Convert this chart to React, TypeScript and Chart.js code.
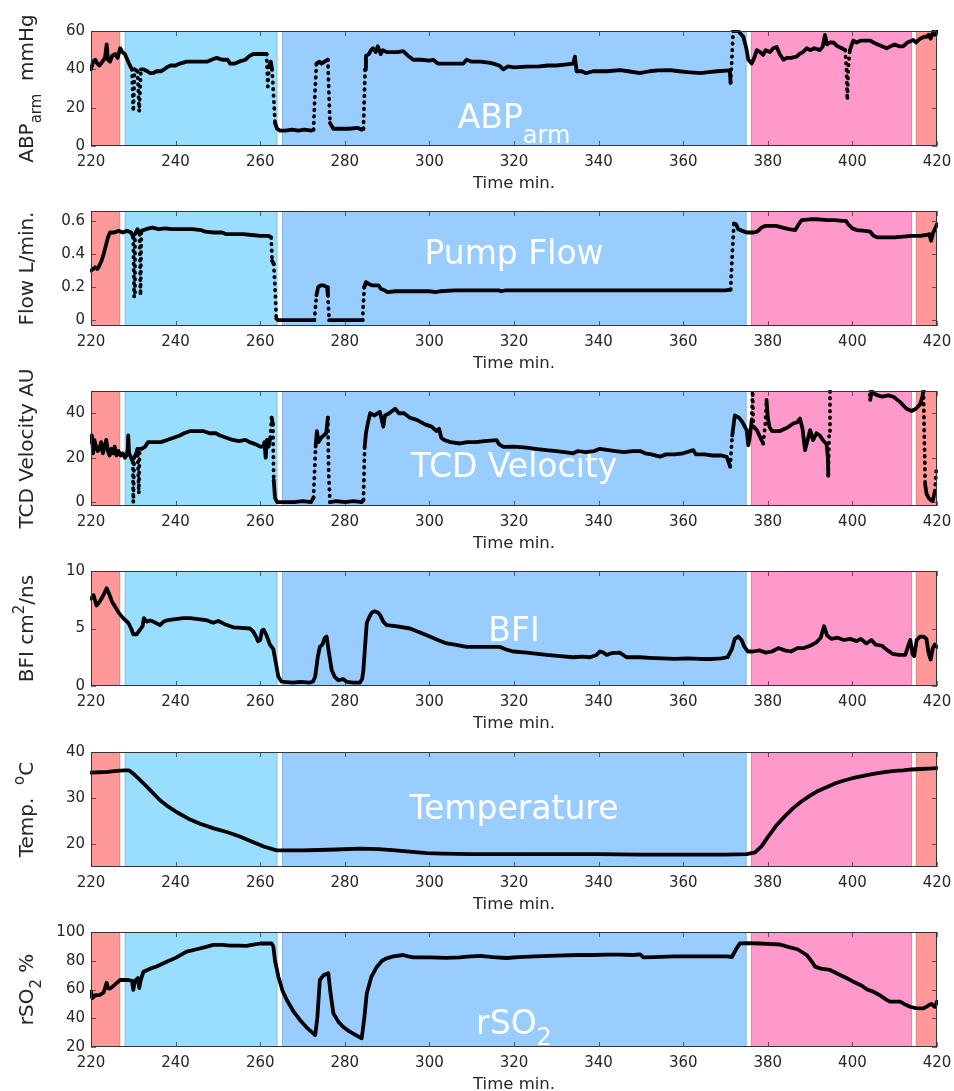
import React, { useEffect, useRef } from "react";
import { Chart, registerables } from "chart.js";

Chart.register(...registerables);

const FONT = "'DejaVu Sans', sans-serif";

// ---------- shared axis / phase data ----------
const timeTicks = [220, 240, 260, 280, 300, 320, 340, 360, 380, 400, 420];
const phaseStart = [220, 227.95, 265.15, 376.0, 415.0];
const phaseEnd = [226.9, 264.1, 375.0, 414.1, 420];
const phaseColor = ["#FF9999", "#99DDFF", "#99CCFF", "#FF99CC", "#FF9999"];

const abpTicks = [0, 20, 40, 60];
const flowTicks = [0, 0.2, 0.4, 0.6];
const tcdTicks = [0, 20, 40];
const bfiTicks = [0, 5, 10];
const tempTicks = [20, 30, 40];
const rso2Ticks = [20, 40, 60, 80, 100];

// ---------- series: [time (min), value] ----------
const abpSeries: number[][] = [
  [220, 40], [220.5, 44], [221, 45], [221.5, 43], [222, 42], [222.7, 44], [223.3, 46], [223.7, 53], [224, 45],
  [224.5, 44], [225, 47], [225.7, 48], [226.3, 46], [226.9, 51], [227.4, 49], [228, 48], [228.6, 45], [229.2, 42],
  [229.7, 40], [230, 18], [230.3, 40], [231, 39], [231.4, 18], [231.8, 40], [232.5, 40], [233.3, 39], [234, 38],
  [234.7, 38], [235.5, 39], [236.5, 39], [237.3, 40], [237.9, 41], [238.8, 42], [240, 42], [241, 43], [242.6, 44],
  [244, 44], [245.5, 44], [247.4, 44], [248.5, 45], [249.7, 46], [251, 45], [252.3, 45], [252.9, 43], [254, 43],
  [255, 44], [256.5, 45], [257.5, 47], [258.4, 48], [259.5, 48], [260.5, 48], [261.5, 48], [261.8, 31], [262.1, 42],
  [262.5, 44], [262.8, 40], [263.2, 25], [263.5, 12], [264, 9], [264.7, 8], [266, 8], [267.5, 8.5], [269, 8],
  [270.5, 8.5], [272, 8], [272.6, 8.5], [273, 30], [273.3, 43], [274, 44], [274.5, 43], [275.2, 44], [276, 45],
  [276.2, 30], [276.5, 12], [277.3, 9], [279, 9], [281, 9], [283, 9.5], [284, 8.5], [284.4, 9], [284.8, 40],
  [285, 47], [285.7, 48], [286.2, 50], [286.7, 51], [287.3, 49], [287.8, 52], [288.5, 48], [289, 50], [289.9, 49],
  [291, 49], [292.5, 49], [293.8, 49.5], [295, 47], [296.2, 45], [298, 45], [300, 44.5], [300.9, 45], [302, 43],
  [304.1, 43], [306, 43], [308, 43], [308.8, 45], [310, 44], [312, 44], [314, 43.5], [315.1, 43], [316.5, 42],
  [317.5, 40], [318.5, 41.5], [320, 41], [323, 41.4], [326, 41.5], [328, 42], [330, 42], [332, 42.5], [334, 43],
  [334.4, 46.6], [334.8, 39], [336, 39], [337, 38], [338.7, 39], [340, 39], [342, 39], [345.1, 39.6], [347, 39],
  [349.8, 38], [352, 39], [354, 39.5], [356.9, 39.6], [359, 39], [361, 38.5], [364, 38], [366, 38.5], [368, 39],
  [371, 39.5], [371.2, 33], [371.5, 45], [371.8, 60], [373, 60], [374.2, 57], [374.7, 53], [375, 50], [375.4, 45],
  [376.2, 43], [376.8, 46], [377.4, 50], [378.2, 49], [378.9, 47.5], [379.5, 50], [380.5, 49], [381.3, 51],
  [382.1, 51.7], [382.8, 48], [383.7, 45], [384.5, 46], [385.5, 46], [386.8, 46.6], [387.5, 48], [388.3, 49],
  [389.2, 51], [390, 50], [391, 51], [392.3, 50], [393, 52], [393.5, 58], [394, 53], [394.7, 54], [395.5, 54],
  [396.5, 52], [397.5, 51], [398.3, 50], [398.6, 40], [398.8, 24], [399, 40], [399.4, 50], [400.2, 55], [401, 54],
  [402, 55], [403, 55], [404.2, 55], [405, 54], [406, 53], [407, 52], [408.1, 51], [409, 52], [410, 53], [411, 52],
  [412, 52], [413, 54], [414.4, 55.3], [415, 54], [416, 56], [417, 57], [417.6, 57], [418, 58], [418.5, 56],
  [419.1, 59.6], [419.5, 58], [420, 60],
];

const flowSeries: number[][] = [
  [220, 0.30], [220.5, 0.31], [221, 0.32], [221.5, 0.31], [222, 0.33], [222.5, 0.36], [223, 0.40], [223.5, 0.45],
  [224, 0.50], [224.5, 0.53], [225.5, 0.53], [226.5, 0.54], [227.5, 0.53], [228.5, 0.54], [229.5, 0.53], [230, 0.50],
  [230.2, 0.14], [230.4, 0.52], [231, 0.55], [231.5, 0.52], [231.7, 0.15], [231.9, 0.54], [233, 0.55], [234.5, 0.56],
  [236, 0.55], [237.5, 0.555], [239, 0.55], [240.5, 0.55], [242, 0.55], [244, 0.55], [246, 0.545], [247, 0.535],
  [249, 0.53], [251, 0.53], [252, 0.52], [254, 0.52], [256, 0.52], [258, 0.515], [260, 0.51], [262, 0.51],
  [262.6, 0.50], [262.8, 0.36], [263.2, 0.34], [263.5, 0.20], [263.8, 0.01], [264.2, 0], [266, 0], [270, 0],
  [272.8, 0], [273.3, 0.15], [273.7, 0.20], [274.3, 0.21], [275, 0.21], [275.8, 0.20], [276, 0.15], [276.3, 0],
  [278, 0], [282, 0], [284.2, 0], [284.6, 0.20], [285, 0.23], [285.6, 0.22], [286.5, 0.21], [288, 0.21],
  [288.5, 0.19], [289.5, 0.18], [290, 0.17], [292, 0.175], [296, 0.175], [300, 0.175], [301.5, 0.17], [302.5, 0.175],
  [306, 0.18], [310, 0.18], [314, 0.18], [316.5, 0.18], [317, 0.175], [318, 0.18], [322, 0.18], [330, 0.18],
  [340, 0.18], [350, 0.18], [360, 0.18], [370, 0.18], [371.2, 0.185], [371.6, 0.40], [372, 0.585], [372.5, 0.58],
  [373, 0.55], [374, 0.54], [375, 0.53], [376.5, 0.53], [377.5, 0.535], [378.5, 0.56], [379.5, 0.57], [382, 0.57],
  [383.5, 0.56], [385, 0.55], [386.5, 0.545], [387.3, 0.58], [388, 0.605], [390, 0.61], [392, 0.61], [394, 0.605],
  [396, 0.605], [397.5, 0.60], [398.5, 0.60], [399, 0.58], [400, 0.555], [401, 0.545], [403, 0.54], [404.2, 0.535],
  [405, 0.51], [406, 0.50], [408, 0.50], [410, 0.50], [412, 0.505], [414, 0.51], [416, 0.51], [417.5, 0.515],
  [418.2, 0.52], [418.6, 0.48], [419.1, 0.53], [419.6, 0.555], [420, 0.58],
];

const tcdSeries: number[][] = [
  [220, 27], [220.2, 30], [220.5, 22], [220.8, 28], [221.2, 25], [221.6, 23], [222, 24], [222.4, 27], [222.8, 22],
  [223.2, 25], [223.6, 28], [224, 23], [224.4, 21], [224.8, 24], [225.2, 22], [225.6, 25], [226, 21], [226.5, 23],
  [227, 21], [227.5, 22], [228, 20], [228.4, 21], [228.7, 24], [228.8, 30], [229, 22], [229.5, 20], [229.9, 18],
  [230, 0], [230.2, 20], [230.7, 22], [231, 24], [231.3, 4], [231.5, 24], [232, 24], [232.8, 25], [233.5, 27],
  [235, 27], [236.5, 27], [238, 28], [239.5, 29], [241, 30], [242, 31], [243.5, 32], [245, 32], [246.5, 32],
  [248, 31], [249.5, 31], [250.5, 30], [252, 29], [253.5, 28], [255, 27.5], [256.5, 28], [257.5, 27], [259, 26],
  [260, 25], [260.8, 25], [261, 27], [261.3, 20], [261.6, 28], [262, 25], [262.4, 29], [262.7, 38], [263, 35],
  [263.2, 10], [263.5, 2], [264, 0], [266, 0], [268, 0], [270, 0.5], [272, 0], [272.6, 2], [273.1, 25], [273.4, 32],
  [273.8, 27], [274.4, 29], [275, 30], [275.6, 31], [276, 38], [276.2, 12], [276.5, 0], [278, 0.5], [280, 0],
  [282, 0.5], [284, 0], [284.4, 1], [284.7, 25], [285, 31], [285.5, 36], [286, 40], [287, 39], [288.3, 40.6],
  [289.1, 34], [289.5, 39], [290.5, 40], [291.9, 42], [292.8, 40], [294, 40], [295.4, 38], [297, 37], [299, 35],
  [300.5, 34], [301.7, 32], [302.3, 33], [302.8, 29], [303.5, 28], [305, 27], [307.2, 26.4], [309, 27], [311, 27],
  [313, 27.5], [315.9, 27.9], [316.5, 26], [317.5, 24.9], [320, 25], [323, 24.5], [325, 24], [327.7, 23.4],
  [330, 23], [332, 22.5], [334, 22], [335, 23], [337, 22.5], [339, 23], [340.3, 24], [342, 23.5], [344, 23],
  [346, 22.5], [348, 23], [349.8, 23], [351, 22], [352.5, 21.5], [354.5, 20.5], [356, 21.5], [358, 21.5], [360, 22],
  [362.4, 23.4], [363, 21.5], [365, 21.5], [367, 21], [369, 21], [370.3, 20.4], [371.1, 16], [371.6, 30],
  [372.2, 39], [373.2, 38], [374, 36], [375, 32.4], [375.4, 25.6], [375.8, 30], [376.2, 37], [376.4, 50],
  [376.6, 34], [377.4, 32.4], [378, 30], [378.9, 26.4], [379.4, 35], [379.7, 46], [380, 38], [380.4, 33.8],
  [381, 32], [382, 32], [382.9, 32], [384, 33], [385, 34], [386, 35.4], [387, 36], [387.6, 37.6], [388.2, 33],
  [388.8, 23.4], [389.4, 28], [390, 32.4], [390.7, 27.9], [391.5, 31], [392.3, 30], [393, 28], [393.9, 26],
  [394.2, 20], [394.3, 12], [394.5, 30], [394.7, 52], [395, 60], [403.8, 60], [404.2, 46], [404.6, 50], [405, 49],
  [406, 48], [407, 47.5], [408.5, 48], [409.7, 47.4], [411.3, 45], [412.8, 42], [414, 41], [415, 42], [416, 44],
  [416.5, 47], [416.8, 50], [417, 30], [417.2, 8], [417.5, 4], [418, 2], [418.5, 1], [419, 0.5], [419.5, 5],
  [419.9, 16],
];

const bfiSeries: number[][] = [
  [220, 7.6], [220.6, 7.9], [221.3, 7.0], [222, 7.3], [222.8, 7.8], [223.7, 8.5], [224.3, 8.0], [225, 7.3],
  [225.7, 6.9], [226.5, 6.4], [227.6, 5.9], [228.8, 5.5], [229.5, 5.0], [230, 4.5], [230.8, 4.5], [231.6, 4.9],
  [232.2, 5.2], [232.5, 5.9], [233.2, 5.6], [234, 5.7], [234.7, 5.6], [236.3, 5.3], [237.2, 5.6], [237.9, 5.7],
  [239.5, 5.8], [241.8, 5.9], [243.5, 5.9], [245.8, 5.8], [247.5, 5.7], [248.9, 5.5], [250.1, 5.65], [251.5, 5.4],
  [253.6, 5.1], [255.5, 5.05], [257.6, 5.0], [258.4, 4.7], [259, 4.3], [259.5, 3.9], [260, 4.0], [260.4, 4.8],
  [260.8, 4.9], [261.5, 4.4], [262.3, 3.6], [263.1, 3.2], [263.6, 2.2], [264.3, 0.8], [265, 0.4], [265.5, 0.35],
  [267.8, 0.3], [269.5, 0.35], [271.8, 0.3], [272.5, 0.4], [273, 0.8], [273.6, 2.5], [274.1, 3.4], [274.7, 3.6],
  [275.3, 4.2], [275.7, 4.3], [276.2, 3.0], [276.9, 1.4], [277.6, 0.8], [278.5, 0.5], [279.6, 0.6], [280.5, 0.35],
  [282, 0.3], [283.6, 0.3], [284.1, 0.6], [284.4, 1.4], [284.8, 3.5], [285.2, 5.5], [285.8, 6.0], [286.4, 6.4],
  [287.1, 6.5], [287.8, 6.4], [288.3, 6.2], [289.1, 5.6], [289.9, 5.3], [292, 5.2], [295.4, 5.0], [297.5, 4.7],
  [300.1, 4.3], [302, 4.0], [304.1, 3.7], [306, 3.6], [308.8, 3.4], [312, 3.4], [316.7, 3.4], [318, 3.2],
  [319.8, 3.0], [323, 2.9], [327.7, 2.7], [331, 2.6], [334, 2.5], [336, 2.55], [338, 2.5], [339.5, 2.7],
  [340.3, 3.0], [341.2, 2.9], [341.9, 2.7], [343, 2.85], [345, 2.9], [346.6, 2.5], [349.8, 2.5], [352, 2.45],
  [355, 2.4], [358, 2.35], [361, 2.4], [364, 2.35], [367, 2.35], [369, 2.4], [370.5, 2.5], [371.5, 3.2],
  [372.2, 4.1], [373, 4.3], [373.8, 4.0], [374.5, 3.4], [375.3, 3.0], [376.5, 3.0], [378, 3.1], [379.5, 2.9],
  [381, 3.0], [382.5, 3.3], [384, 3.1], [385.5, 3.0], [387, 3.3], [388.5, 3.3], [390, 3.5], [391.5, 3.8],
  [392.5, 4.2], [393.3, 5.2], [394, 4.4], [395, 4.1], [396.5, 4.2], [398, 4.0], [399.5, 4.1], [401, 3.9],
  [402, 4.1], [403.3, 3.7], [404.5, 4.0], [405.5, 3.6], [407, 3.5], [408.3, 3.1], [409.5, 2.8], [411, 2.7],
  [412.5, 2.7], [413.2, 3.5], [413.7, 4.0], [414.2, 2.8], [414.6, 2.6], [415.2, 4.0], [416, 4.3], [416.8, 4.3],
  [417.5, 4.1], [418, 2.9], [418.5, 2.3], [419, 3.3], [419.5, 3.6], [420, 3.4],
];

const tempSeries: number[][] = [
  [220, 35.5], [222, 35.6], [224, 35.7], [226, 35.9], [228, 36.0], [229, 36.0], [230, 35.3], [232.4, 33.2],
  [234, 31.7], [236.3, 29.5], [238, 28.3], [240.3, 26.9], [243, 25.5], [245.8, 24.4], [249, 23.4], [252.1, 22.6],
  [255, 21.7], [258.4, 20.4], [261, 19.4], [263.9, 18.6], [266, 18.6], [270, 18.6], [274, 18.7], [278, 18.8],
  [283.6, 19.0], [288, 18.9], [292, 18.6], [296, 18.3], [299.4, 18.0], [303, 17.9], [310, 17.8], [316, 17.8],
  [323, 17.8], [330, 17.8], [340, 17.8], [349.8, 17.7], [355, 17.7], [360, 17.7], [365, 17.7], [370, 17.7],
  [375, 17.8], [377, 18.2], [378.5, 19.5], [380, 21.5], [382, 24.0], [384, 26.0], [386, 27.8], [388, 29.3],
  [390, 30.5], [392, 31.6], [394, 32.4], [396, 33.2], [398, 33.8], [400, 34.3], [402, 34.7], [404, 35.1],
  [406, 35.4], [408, 35.7], [410, 35.9], [412, 36.0], [414, 36.2], [416, 36.3], [418, 36.4], [420, 36.5],
];

const rso2Series: number[][] = [
  [220, 58.5], [220.3, 54], [221, 56], [222.1, 56.2], [223, 58], [223.7, 64.7], [224, 61], [224.5, 60.6],
  [225.5, 63], [226.9, 66.6], [228.8, 66.6], [229.7, 66], [230, 59.7], [230.4, 66], [231.1, 68], [231.4, 61],
  [231.7, 66], [232.4, 72.4], [234, 74.5], [235.5, 76], [237.9, 79.3], [240, 82], [242.6, 86.3], [245, 88],
  [247, 89.5], [248.9, 91], [251, 91], [252.9, 90.5], [255, 90.5], [256.8, 90.3], [258, 91], [260, 92],
  [262.7, 92], [263.1, 90], [263.5, 80], [264.3, 68.9], [265.3, 59], [266.3, 52.7], [267.8, 45], [269.4, 38.8],
  [271, 33.5], [273, 28.3], [273.5, 40], [274.1, 66.6], [275, 70], [276.1, 71.3], [276.6, 58], [277.3, 43.4],
  [278.5, 37.5], [279.6, 34.1], [281, 31], [282.5, 28.5], [284, 26], [284.6, 40], [285.2, 57.4], [286.3, 69],
  [287.6, 75.9], [288.8, 80], [289.9, 81.7], [291.5, 83], [293.8, 84], [295, 83], [296.2, 82.3], [300, 82.3],
  [304, 82], [307.2, 82.3], [309, 82.8], [312, 83.4], [315, 82.5], [318.2, 81.9], [321, 82.5], [325, 83],
  [330, 83.5], [335, 84], [338.7, 84], [342, 84.2], [345, 84.3], [348.2, 84], [349.8, 84.5], [350.6, 82.3],
  [353, 82.5], [358, 83], [363, 83], [368, 83], [370.3, 83], [371.5, 82.6], [372.5, 88], [373.4, 92.1],
  [375, 92.3], [378, 92], [380, 91.8], [382.9, 91.3], [385, 89.5], [387, 88], [389.2, 84], [390.5, 79],
  [391.2, 75.9], [392.5, 74.5], [394.7, 73.6], [396.5, 71], [398.7, 67.8], [400, 65.8], [402, 63], [403.5, 60],
  [404.9, 58.5], [406.5, 56], [408, 53], [408.9, 51.5], [411.3, 51.5], [412.5, 49.5], [413.6, 48], [415, 47],
  [416.8, 46.9], [417.5, 48], [418, 49], [418.7, 50], [419.2, 48.5], [419.5, 48], [420, 51.5],
];

// ---------- text parts ----------
type Part = { t: string; sub?: boolean; sup?: boolean };

const abpTitle: Part[] = [{ t: "ABP" }, { t: "arm", sub: true }, { t: "  mmHg" }];
const flowTitle: Part[] = [{ t: "Flow L/min." }];
const tcdTitle: Part[] = [{ t: "TCD Velocity AU" }];
const bfiTitle: Part[] = [{ t: "BFI cm" }, { t: "2", sup: true }, { t: "/ns" }];
const tempTitle: Part[] = [{ t: "Temp.  " }, { t: "o", sup: true }, { t: "C" }];
const rso2Title: Part[] = [{ t: "rSO" }, { t: "2", sub: true }, { t: " %" }];

const abpLabel: Part[] = [{ t: "ABP" }, { t: "arm", sub: true }];
const flowLabel: Part[] = [{ t: "Pump Flow" }];
const tcdLabel: Part[] = [{ t: "TCD Velocity" }];
const bfiLabel: Part[] = [{ t: "BFI" }];
const tempLabel: Part[] = [{ t: "Temperature" }];
const rso2Label: Part[] = [{ t: "rSO" }, { t: "2", sub: true }];

type PanelDef = {
  series: number[][];
  yMin: number;
  yMax: number;
  yTicks: number[];
  title: Part[];
  label: Part[];
  labelBase: number;
  labelSub: number;
  dots: boolean;
};

const panels: PanelDef[] = [
  { series: abpSeries, yMin: 0, yMax: 60, yTicks: abpTicks, title: abpTitle, label: abpLabel, labelBase: 97, labelSub: 15, dots: true },
  { series: flowSeries, yMin: -0.035, yMax: 0.66, yTicks: flowTicks, title: flowTitle, label: flowLabel, labelBase: 53, labelSub: 12, dots: true },
  { series: tcdSeries, yMin: -1.7, yMax: 50, yTicks: tcdTicks, title: tcdTitle, label: tcdLabel, labelBase: 86, labelSub: 12, dots: true },
  { series: bfiSeries, yMin: 0, yMax: 10, yTicks: bfiTicks, title: bfiTitle, label: bfiLabel, labelBase: 70, labelSub: 12, dots: false },
  { series: tempSeries, yMin: 15, yMax: 40, yTicks: tempTicks, title: tempTitle, label: tempLabel, labelBase: 67, labelSub: 12, dots: false },
  { series: rso2Series, yMin: 20, yMax: 100, yTicks: rso2Ticks, title: rso2Title, label: rso2Label, labelBase: 102, labelSub: 11, dots: false },
];

const panelTops = [31, 211, 391, 571, 752, 932];
const CANVAS_H = 196;
const PLOT_TOP = 31;
const PLOT_BOTTOM = 146;

function drawRich(
  ctx: CanvasRenderingContext2D,
  parts: Part[],
  x: number,
  y: number,
  size: number,
  smallSize: number,
  subShift: number,
  supShift: number,
  color: string
) {
  const fontOf = (s: number) => `${s}px ${FONT}`;
  const widths = parts.map((p) => {
    ctx.font = fontOf(p.sub || p.sup ? smallSize : size);
    return ctx.measureText(p.t).width;
  });
  const total = widths.reduce((a, b) => a + b, 0);
  let cx = x - total / 2;
  ctx.textAlign = "left";
  ctx.textBaseline = "alphabetic";
  ctx.fillStyle = color;
  parts.forEach((p, i) => {
    ctx.font = fontOf(p.sub || p.sup ? smallSize : size);
    const dy = p.sub ? subShift : p.sup ? supShift : 0;
    ctx.fillText(p.t, cx, y + dy);
    cx += widths[i];
  });
}

function makeDecor(def: PanelDef) {
  return {
    id: "panelDecor",
    beforeDatasetsDraw(chart: any) {
      const { ctx, chartArea: a, scales } = chart;
      const xs = scales.x;
      const ys = scales.y;
      ctx.save();
      ctx.fillStyle = "#ffffff";
      ctx.fillRect(a.left, a.top, a.right - a.left, a.bottom - a.top);
      phaseStart.forEach((s, i) => {
        const x0 = xs.getPixelForValue(s);
        const x1 = xs.getPixelForValue(phaseEnd[i]);
        ctx.fillStyle = phaseColor[i];
        ctx.fillRect(x0, a.top, x1 - x0, a.bottom - a.top);
        ctx.strokeStyle = "rgba(0,0,0,0.12)";
        ctx.lineWidth = 1;
        ctx.strokeRect(x0 + 0.5, a.top + 0.5, x1 - x0 - 1, a.bottom - a.top - 1);
      });
      ctx.strokeStyle = "rgba(0,0,0,0.55)";
      ctx.lineWidth = 1;
      ctx.beginPath();
      timeTicks.forEach((v) => {
        const px = Math.round(xs.getPixelForValue(v)) + 0.5;
        ctx.moveTo(px, a.top);
        ctx.lineTo(px, a.top + 5);
        ctx.moveTo(px, a.bottom);
        ctx.lineTo(px, a.bottom - 5);
      });
      def.yTicks.forEach((v) => {
        const py = Math.round(ys.getPixelForValue(v)) + 0.5;
        ctx.moveTo(a.left, py);
        ctx.lineTo(a.left + 5, py);
        ctx.moveTo(a.right, py);
        ctx.lineTo(a.right - 5, py);
      });
      ctx.stroke();
      drawRich(ctx, def.label, (a.left + a.right) / 2, a.top + def.labelBase, 33, 24, def.labelSub, -12, "#ffffff");
      ctx.restore();
    },
    afterDatasetsDraw(chart: any) {
      const { ctx, chartArea: a } = chart;
      ctx.save();
      ctx.strokeStyle = "#333333";
      ctx.lineWidth = 1;
      ctx.strokeRect(a.left + 0.5, a.top + 0.5, a.right - a.left - 1, a.bottom - a.top - 1);
      ctx.restore();
    },
    afterDraw(chart: any) {
      const { ctx, chartArea: a } = chart;
      ctx.save();
      ctx.translate(33, (a.top + a.bottom) / 2);
      ctx.rotate(-Math.PI / 2);
      drawRich(ctx, def.title, 0, 0, 20, 15, 8, -9, "#262626");
      ctx.restore();
    },
  };
}

const isSteep = (c: any) => {
  const dx = Math.abs(c.p1.x - c.p0.x);
  const dy = Math.abs(c.p1.y - c.p0.y);
  return dy > 18 && dx < 2.5;
};

function Panel({ def, top }: { def: PanelDef; top: number }) {
  const ref = useRef<HTMLCanvasElement | null>(null);
  useEffect(() => {
    if (!ref.current) return;
    const dotted = (c: any) => (def.dots && isSteep(c) ? [0.5, 6] : undefined);
    const chart = new Chart(ref.current, {
      type: "line",
      data: {
        datasets: [
          {
            data: def.series.map((p) => ({ x: p[0], y: p[1] })),
            borderColor: "#000000",
            borderWidth: 3.8,
            pointRadius: 0,
            tension: 0,
            borderJoinStyle: "round",
            borderCapStyle: "round",
            clip: 1,
            segment: {
              borderDash: dotted,
            },
          } as any,
        ],
      },
      options: {
        animation: false,
        responsive: false,
        maintainAspectRatio: false,
        events: [],
        layout: { padding: { top: PLOT_TOP, right: 17, left: 0, bottom: 0 } },
        plugins: { legend: { display: false }, tooltip: { enabled: false } },
        scales: {
          x: {
            type: "linear",
            min: 220,
            max: 420,
            afterBuildTicks: (s: any) => {
              s.ticks = timeTicks.map((v) => ({ value: v }));
            },
            afterFit: (s: any) => {
              s.height = CANVAS_H - PLOT_BOTTOM;
              s.paddingLeft = 0;
              s.paddingRight = 0;
            },
            grid: { display: false, drawTicks: false },
            border: { display: false },
            ticks: {
              color: "#262626",
              font: { family: FONT, size: 15 },
              padding: 7,
              maxRotation: 0,
              autoSkip: false,
              callback: (v: any) => String(v),
            },
            title: {
              display: true,
              text: "Time min.",
              color: "#262626",
              font: { family: FONT, size: 16.5 },
              padding: { top: 0, bottom: 2.6 },
            },
          },
          y: {
            type: "linear",
            min: def.yMin,
            max: def.yMax,
            afterBuildTicks: (s: any) => {
              s.ticks = def.yTicks.map((v) => ({ value: v }));
            },
            afterFit: (s: any) => {
              s.width = 91;
              s.paddingTop = 0;
              s.paddingBottom = 0;
            },
            grid: { display: false, drawTicks: false },
            border: { display: false },
            ticks: {
              color: "#262626",
              font: { family: FONT, size: 15 },
              padding: 6,
              autoSkip: false,
              callback: (v: any) => String(v),
            },
          },
        },
      } as any,
      plugins: [makeDecor(def) as any],
    });
    return () => chart.destroy();
  }, [def]);
  return (
    <canvas
      ref={ref}
      width={954}
      height={CANVAS_H}
      style={{ position: "absolute", left: 0, top, width: 954, height: CANVAS_H }}
    />
  );
}

export default function App() {
  return (
    <div
      style={{
        position: "absolute",
        left: 0,
        top: 0,
        width: 954,
        height: 1091,
        overflow: "hidden",
        background: "#ffffff",
      }}
    >
      {panels.map((def, i) => (
        <Panel key={i} def={def} top={panelTops[i] - PLOT_TOP} />
      ))}
    </div>
  );
}
